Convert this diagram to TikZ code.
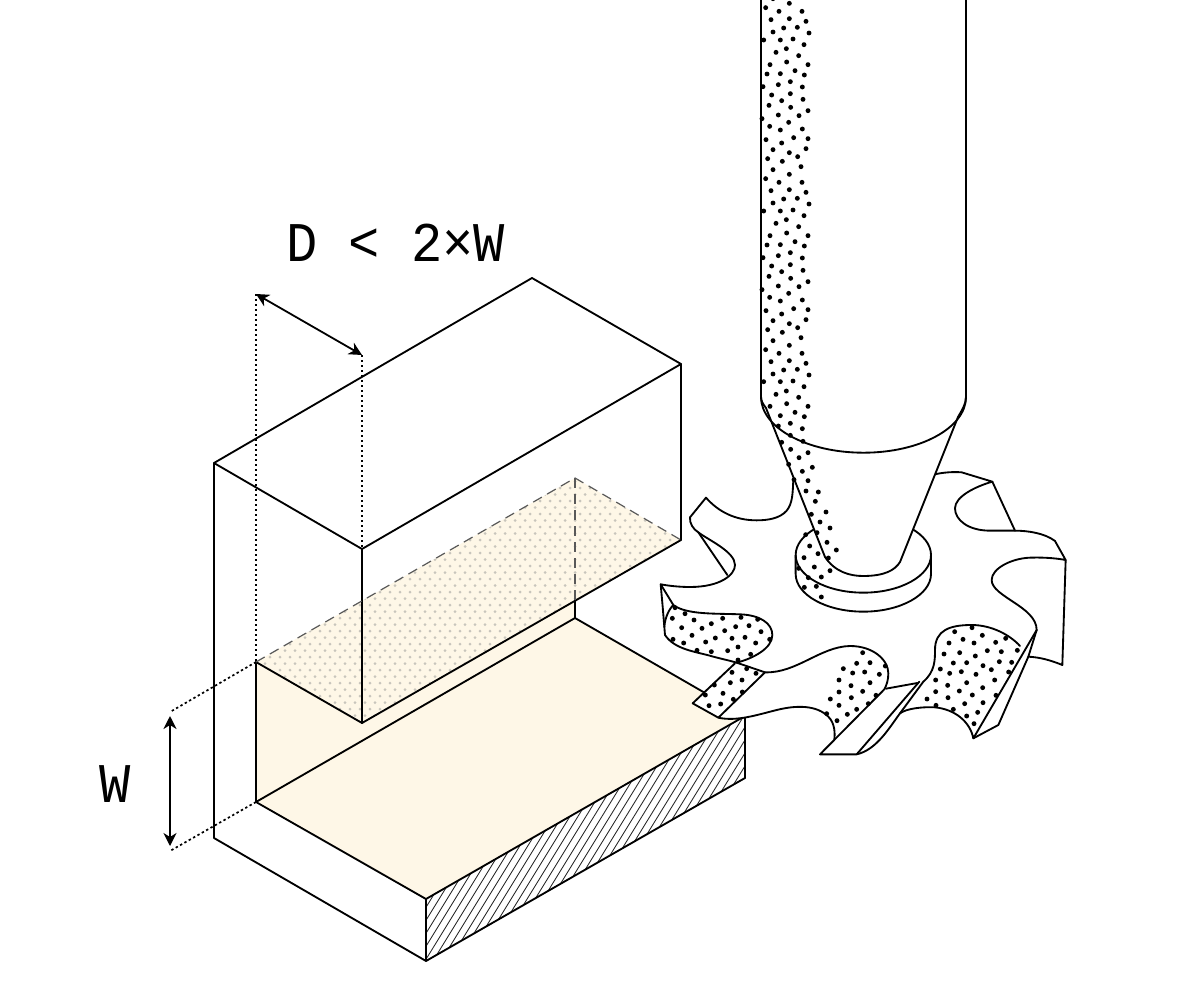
\documentclass[tikz,border=0pt]{standalone}
\usepackage{fontspec}
\usetikzlibrary{arrows.meta}
\newfontfamily\dimfont[FakeStretch=0.93]{Liberation Mono}
\definecolor{tanfill}{HTML}{FEF7E7}
\definecolor{graydot}{HTML}{C8C5BC}
\newcommand{\dotsat}[3]{\foreach \a/\b in {#3}{\fill[black] ({#1+\a/3},{#2+\b/3}) circle[radius=2.45pt];}}
\tikzset{
  ink/.style={draw=black,line width=1.85pt,line join=round,line cap=round},
  dotline/.style={draw=black,line width=1.7pt,dash pattern=on 2.4pt off 2.6pt},
  dashline/.style={draw=black!65,line width=1.2pt,dash pattern=on 10pt off 6pt},
  dimarrow/.style={draw=black,line width=1.8pt,{Stealth[length=13pt,width=13pt,inset=4pt]}-{Stealth[length=13pt,width=13pt,inset=4pt]}},
  dimtext/.style={inner sep=0pt,anchor=base west,font=\dimfont\fontsize{56}{60}\selectfont}
}
\begin{document}
\begin{tikzpicture}[x=1pt,y=-1pt]
\useasboundingbox (0,0) rectangle (1200,982);
\fill[white] (0,0) rectangle (1200,982);
% block corners
\coordinate (tl) at (214,463);
\coordinate (tt) at (532,278);
\coordinate (tr) at (681,364);
\coordinate (tf) at (362,549);
\coordinate (bl) at (214,838);
\coordinate (bf) at (426,961);
\coordinate (br) at (745,778);
\coordinate (cl) at (256,662);
\coordinate (cb) at (575,478);
\coordinate (cr) at (681,540);
\coordinate (cf) at (362,723);
\coordinate (wm) at (575,600);
\coordinate (wb) at (575,618);
\coordinate (fl) at (256,802);
\coordinate (ff) at (426,899);
\coordinate (fr) at (745,716);
\coordinate (da) at (256,294);
\coordinate (db) at (362,355);
\coordinate (wa) at (170,712);
\coordinate (wc) at (170,851);
% fills
\fill[tanfill] (cl)--(cb)--(cr)--(cf)--cycle;
\fill[tanfill] (cl)--(cf)--(wm)--(wb)--(fr)--(ff)--(fl)--cycle;
\begin{scope}
\clip (cl)--(cb)--(cr)--(cf)--cycle;
\fill[graydot] \foreach \r in {0,...,38}{\foreach \c in {0,...,43}{
  ({250+10*\c+5*mod(\r,2)},{475+6.5*\r}) circle[radius=1.5pt]}};
\end{scope}
% hatch
\begin{scope}
\clip (ff)--(fr)--(br)--(bf)--cycle;
\foreach \h in {0,...,70}{
  \draw[black!85,line width=.85pt] ({260+8*\h},982) -- ({260+8*\h+165},714);}
\end{scope}
% block lines
\draw[ink] (tl)--(tt)--(tr)--(tf)--cycle;
\draw[ink] (tl)--(bl)--(bf)--(br)--(fr)--(ff)--(bf);
\draw[ink] (tf)--(cf)--(cr)--(tr);
\draw[ink] (cf)--(cl)--(fl)--(ff);
\draw[ink] (fl)--(wb)--(fr);
\draw[ink] (wb)--(wm);
\draw[dashline] (cl)--(cb)--(cr);
\draw[dashline] (cb)--(wm);
% dimensions
\draw[dotline] (da)--(cl);
\draw[dotline] (db)--(tf);
\draw[dotline] (cl)--(wa);
\draw[dotline] (fl)--(wc);
\draw[dimarrow] (da)--(db);
\draw[dimarrow] (170,716)--(170,846);
\node[dimtext] (dlabel) at (286,261) {D < 2×W};
\node[dimtext] (wlabel) at (99,802) {W};
% gear
\begin{scope}[shift={(640,440)},scale=0.33333]
\fill[white] (285,670)--(158,790)--(235,833) .. controls (290,845) and (350,825) .. (410,810) -- (375,697) -- cycle;
\draw[ink] (460,118) .. controls (458,160) and (458,190) .. (440,212) .. controls (420,235) and (385,241) .. (350,241) .. controls (285,241) and (235,215) .. (198,173) -- (150,232) .. controls (148,250) and (160,268) .. (175,277) .. controls (205,300) and (285,335) .. (285,375) .. controls (285,405) and (240,441) .. (150,441) .. controls (115,441) and (85,437) .. (62,433) -- (100,495) .. controls (140,525) and (230,520) .. (300,523) .. controls (360,525) and (397,550) .. (397,585) .. controls (397,625) and (340,655) .. (290,668);
\draw[ink] (175,277)--(262,405);
\draw[ink] (62,433) -- (68,500) -- (75,585) .. controls (105,630) and (170,635) .. (220,650) .. controls (250,658) and (270,662) .. (290,668) -- (375,697);
\draw[ink] (100,495) .. controls (85,510) and (75,535) .. (73,560);
\draw[ink] (285,670)--(158,790)--(235,833)--(375,697) .. controls (470,700) and (540,620) .. (630,618) .. controls (700,618) and (745,660) .. (745,700) .. controls (745,720) and (740,735) .. (733,748) -- (540,943) -- (650,943) -- (838,725);
\draw[ink] (235,833) .. controls (290,845) and (350,825) .. (410,810) .. controls (470,795) and (530,795) .. (565,830) .. controls (585,850) and (585,880) .. (583,898);
\draw[ink] (738,746)--(832,729);
\draw[ink] (650,943) .. controls (710,930) and (750,860) .. (780,820) -- (850,725) .. controls (885,695) and (885,660) .. (885,630) .. controls (885,570) and (930,555) .. (995,555) .. controls (1055,555) and (1110,585) .. (1140,618);
\draw[ink] (780,820) .. controls (800,805) and (850,800) .. (885,802) .. controls (945,808) and (990,845) .. (1000,895) -- (1190,570) .. controls (1190,500) and (1055,470) .. (1055,420) .. controls (1055,385) and (1115,355) .. (1170,353) .. controls (1200,352) and (1240,353) .. (1277,360) -- (1245,303) .. controls (1215,280) and (1165,272) .. (1125,272) -- (1050,272) .. controls (985,272) and (945,240) .. (945,205) .. controls (945,170) and (1005,140) .. (1057,125) -- (965,97) .. controls (940,95) and (910,97) .. (885,103);
\draw[ink] (1125,272)--(1057,125);
\draw[ink] (1000,895)--(1075,855)--(1165,650)--(1190,570);
\draw[ink] (1277,360)--(1267,675) .. controls (1230,660) and (1200,652) .. (1165,650);
% collar
\fill[white] (467,345) -- (467,402) .. controls (467,464) and (558,515) .. (670,515) .. controls (782,515) and (873,464) .. (873,402) -- (873,345) .. controls (873,283) and (782,232) .. (670,232) .. controls (558,232) and (467,283) .. (467,345) -- cycle;
\draw[ink] (467,345) -- (467,402) .. controls (467,464) and (558,515) .. (670,515) .. controls (782,515) and (873,464) .. (873,402) -- (873,345);
\draw[ink] (467,345) .. controls (467,407) and (558,458) .. (670,458) .. controls (782,458) and (873,407) .. (873,345) .. controls (873,283) and (782,232) .. (670,232) .. controls (558,232) and (467,283) .. (467,345) -- cycle;
\end{scope}
% tool
\coordinate (sl) at (761,397);
\coordinate (sr) at (966,397);
\coordinate (sb) at (863.5,452.7);
\fill[white] (761,-2)--(sl)--(766,408)--(825,557) .. controls (835,572) and (850,576) .. (863,576) .. controls (885,576) and (895,570) .. (900,562) -- (958,417) -- (sr) -- (966,-2) -- cycle;
\draw[ink] (761,-2)--(sl) .. controls (761,427.8) and (806.9,452.7) .. (sb) .. controls (920.1,452.7) and (966,427.8) .. (sr) -- (966,-2);
\draw[ink] (sl) .. controls (761,401) and (763,404) .. (766,408) -- (825,557) .. controls (835,572) and (850,576) .. (863,576) .. controls (885,576) and (895,570) .. (900,562) -- (958,417) .. controls (962,410) and (966,404) .. (sr);
% dots: shaft, tile repeated
\foreach \k in {-342,-171,0}{
\dotsat{750}{200+\k}{41/33,91/33,129/30,162/47,78/70,109/59,146/80,60/107,110/99,174/107,51/135,91/134,135/125,163/138,39/173,85/167,121/158,157/174,65/198,95/215,121/194,159/211,57/229,122/235,174/245,36/269,85/258,147/260,59/292,91/303,116/280,157/300,48/332,95/342,131/326,174/329,69/362,118/371,143/383,168/359,53/389,97/397,153/413,69/422,118/436,47/449,87/460,156/460,63/485,118/482,168/490,69/522,101/510,142/508,177/525}
}
\dotsat{750}{380}{41/5,91/5,129/3,162/20}
\dotsat{750}{390}{78/13,109/3,146/22,60/49,110/41,174/49,91/77,135/67,163/80,85/108,121/100,157/116,121/136,95/157,159/154,122/178,174/188,147/203,116/223,187/232,157/244,132/269,174/272,168/303,205/306,196/334,228/366,184/373,210/396,240/414,167/434,201/428,231/457,179/468,259/480,204/491,162/503,235/504,146/535,193/531,240/542,175/563,214/561,163/592,199/589,214/621}
% dots: pockets
\dotsat{650}{570}{75/113,105/131,67/145,132/150,184/161,218/145,273/142,323/148,95/173,156/175,224/182,257/170,297/167,333/185,126/196,196/204,246/205,285/202,359/208,69/208,101/219,167/216,317/219,264/231,233/242,141/241,184/245,302/253,264/270}
\dotsat{650}{570}{246/307,290/296,318/310,193/345,241/338,276/330,166/375,219/370,250/388,277/366,177/407,212/402}
\dotsat{650}{570}{638/248,620/280,660/278,580/296,608/309,644/306,688/313,706/288,567/330,603/347,660/338,567/366,638/364,678/376,541/387,604/383,567/406,655/401,620/418,592/433,530/431,561/452}
\dotsat{880}{460}{224/515,276/503,307/526,249/538,207/549,282/549,347/547,377/535,192/582,239/578,286/588,322/572,364/575,412/571,220/609,260/608,309/617,358/605,395/607,181/627,209/640,244/635,288/643,334/629,386/636,167/660,203/676,260/668,344/660,167/695,238/693,308/683,141/717,204/713,277/705,348/706,168/736,254/731,309/728,220/748,293/757,260/768,282/791}
\end{tikzpicture}
\end{document}
